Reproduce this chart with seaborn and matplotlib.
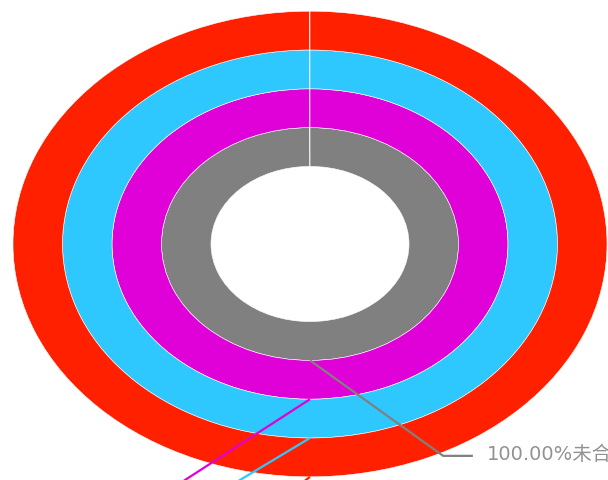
"""Concentric single-slice rings with leader labels."""

import matplotlib

matplotlib.use("Agg")
import matplotlib.pyplot as plt
import seaborn as sns

# Rings from inside to outside.
ring_names = ["未合格", "未合格", "未合格", "未合格"]
ring_values = [100.0, 100.0, 100.0, 100.0]
ring_totals = [100.0, 100.0, 100.0, 100.0]
ring_colors = ["#808080", "#e000d8", "#2ec8ff", "#ff2000"]

sns.set_theme(style="white")
plt.rcParams["font.family"] = ["DejaVu Sans", "Noto Sans CJK SC"]

fig = plt.figure(figsize=(6.08, 4.81), dpi=100)
ax = fig.add_axes([0, 0, 1, 1])

xlim = (-310 / 49.5, 298 / 49.5)
ylim = (-236 / 38.8, 245 / 38.8)

hole = 2.0
for i, (val, tot, col) in enumerate(zip(ring_values, ring_totals, ring_colors)):
    r = hole + i + 1
    # tiny gap keeps the slice seam visible at 12 o'clock
    frac = val / tot * 0.9997
    ax.pie(
        [frac],
        normalize=False,
        radius=r,
        colors=[col],
        startangle=90,
        counterclock=False,
        wedgeprops={"width": 1.0, "edgecolor": "white", "linewidth": 0.4},
    )

# leader lines: (elbow x, elbow y, end x) for each ring
leaders = [(2.69, -5.46, 3.29), (-3.6, -6.97, -4.2), (-2.6, -6.99, -3.2), (-1.5, -7.5, -2.1)]
for i, (name, val, tot, col) in enumerate(
    zip(ring_names, ring_values, ring_totals, ring_colors)
):
    r = hole + i + 1
    ex, ey, tx = leaders[i]
    ax.plot([0, ex, tx], [-r, ey, ey], color=col, lw=1.6, solid_capstyle="butt")
    if ey - 0.3 < ylim[0]:
        continue  # label sits below the visible area
    pct = val / tot * 100
    ha = "left" if tx > ex else "right"
    ax.text(
        tx + (0.28 if ha == "left" else -0.28),
        ey + 0.05,
        f"{pct:.2f}%{name}",
        ha=ha,
        va="center",
        fontsize=14,
        color="#929292",
    )

ax.set_aspect("auto")
ax.set_xlim(*xlim)
ax.set_ylim(*ylim)
ax.axis("off")

fig.savefig("out.png", dpi=100)
